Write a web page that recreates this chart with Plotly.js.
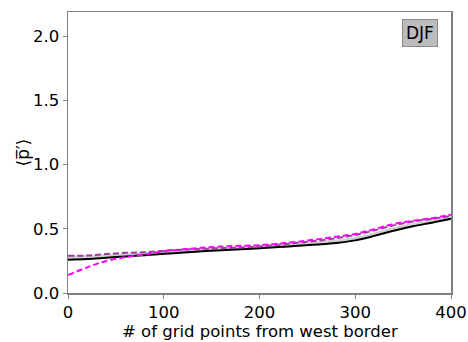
<!DOCTYPE html>
<html><head><meta charset="utf-8">
<script src="https://cdn.plot.ly/plotly-3.0.1.min.js"></script>
<style>html,body{margin:0;padding:0;background:#fff}</style>
</head><body><div id="chart" style="width:468px;height:342px"></div>
<script>
const xGrid = [0,20,40,60,80,100,120,140,160,180,200,220,240,260,280,300,320,340,360,380,400];
const blackSolid = [0.26,0.265,0.275,0.285,0.295,0.305,0.315,0.325,0.333,0.341,0.348,0.358,0.368,0.378,0.39,0.41,0.445,0.485,0.52,0.548,0.578];
const graySolid = [0.275,0.28,0.287,0.294,0.303,0.313,0.323,0.333,0.342,0.35,0.357,0.367,0.377,0.388,0.402,0.422,0.457,0.497,0.53,0.556,0.584];
const purpleDash = [0.29,0.292,0.303,0.313,0.317,0.33,0.338,0.344,0.349,0.354,0.362,0.376,0.391,0.407,0.427,0.452,0.488,0.527,0.557,0.578,0.6];
const magentaDash = [0.14,0.2,0.25,0.28,0.3,0.325,0.34,0.353,0.362,0.368,0.372,0.385,0.4,0.418,0.438,0.46,0.498,0.537,0.563,0.583,0.61];
const xTicks = [0,100,200,300,400];
const yTicks = [0,0.5,1.0,1.5,2.0];
const yTickText = ['0.0','0.5','1.0','1.5','2.0'];
const xTitle = '# of grid points from west border';
const yTitle = '⟨p̅′⟩';

const traces = [
  {x:xGrid,y:graySolid,mode:'lines',line:{color:'#d0d0d0',width:4,shape:'spline'}},
  {x:xGrid,y:blackSolid,mode:'lines',line:{color:'#000000',width:2,shape:'spline'}},
  {x:xGrid,y:purpleDash,mode:'lines',line:{color:'#9b3d9b',width:2,dash:'6px,3px',shape:'spline'}},
  {x:xGrid,y:magentaDash,mode:'lines',line:{color:'#ff00ff',width:2,dash:'6px,3px',shape:'spline'}}
];
const axFont = {family:'DejaVu Sans',size:16.5,color:'#000'};
const layout = {
  width:468,height:342,
  margin:{l:68,r:17,t:12,b:49},
  paper_bgcolor:'#fff',plot_bgcolor:'#fff',
  showlegend:false,
  font:{family:'DejaVu Sans',color:'#000'},
  xaxis:{range:[0,400],tickvals:xTicks,ticktext:xTicks.map(String),showgrid:false,zeroline:false,
    showline:true,mirror:true,linecolor:'#808080',linewidth:1.5,ticks:'outside',ticklen:4,tickcolor:'#808080',
    tickfont:axFont},
  yaxis:{range:[0,2.19],tickvals:yTicks,ticktext:yTickText,showgrid:false,zeroline:false,
    showline:true,mirror:true,linecolor:'#808080',linewidth:1.5,ticks:'outside',ticklen:4,tickcolor:'#808080',
    tickfont:axFont},
  annotations:[
    {xref:'paper',yref:'paper',x:0.965,y:0.975,xanchor:'right',yanchor:'top',text:'DJF',showarrow:false,
     font:{family:'DejaVu Sans',size:17,color:'#000'},bgcolor:'#bcbcbc',bordercolor:'#888',borderwidth:1,borderpad:3},
    {xref:'paper',yref:'paper',x:0.5,y:0,xanchor:'center',yanchor:'bottom',yshift:-48.5,borderpad:0,text:xTitle,showarrow:false,
     font:{family:'DejaVu Sans',size:16.5,color:'#000'}},
    {xref:'paper',yref:'paper',x:0,y:0.5,xanchor:'center',yanchor:'middle',xshift:-46,text:yTitle,textangle:-90,showarrow:false,
     font:{family:'DejaVu Sans',size:17,color:'#000'}}
  ]
};
Plotly.newPlot('chart',traces,layout,{staticPlot:true});
</script></body></html>
